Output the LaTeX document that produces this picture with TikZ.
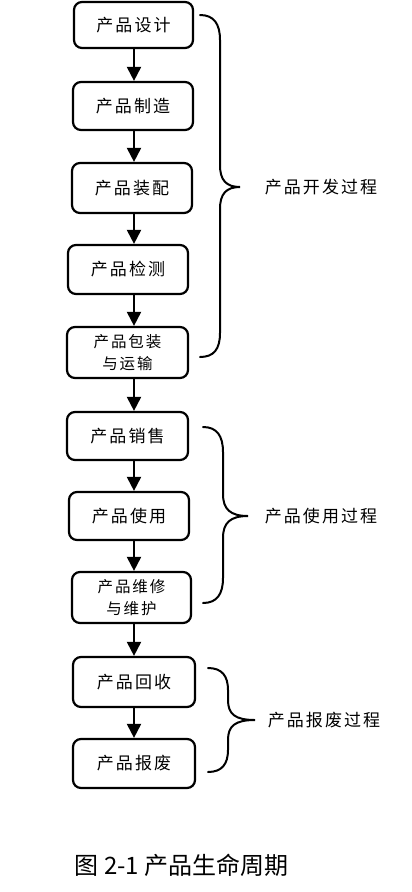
\documentclass[tikz,border=0pt]{standalone}
\usepackage{fontspec}
\setmainfont{Noto Sans CJK SC}
\newfontfamily\boxfont[LetterSpace=12]{Noto Sans CJK SC}
\usetikzlibrary{arrows.meta}
\begin{document}
\begin{tikzpicture}[x=1pt,y=-1pt,
  pbox/.style={draw, rounded corners=8pt, line width=2.2pt, inner sep=0pt, align=center,
    font=\boxfont\fontsize{17}{20}\selectfont},
  pbox2/.style={pbox, font=\boxfont\fontsize{15.5}{22}\selectfont},
  arr/.style={line width=2pt, -{Triangle[length=14pt,width=14pt]}},
  brace/.style={line width=2pt, line cap=round},
  lab/.style={inner sep=0pt, font=\boxfont\fontsize{17}{20}\selectfont},
]
\useasboundingbox (0,0) rectangle (412,892);
\fill[white] (0,0) rectangle (412,892);

\node[pbox, minimum width=119, minimum height=46] (b1) at (133.5,25) {产品设计};
\node[pbox, minimum width=120, minimum height=48] (b2) at (133,106) {产品制造};
\node[pbox, minimum width=120, minimum height=50] (b3) at (132,188) {产品装配};
\node[pbox, minimum width=120, minimum height=49] (b4) at (128,269.5) {产品检测};
\node[pbox2, minimum width=121, minimum height=51] (b5) at (127.5,352.5) {产品包装\\与运输};
\node[pbox, minimum width=121, minimum height=48] (b6) at (127.5,436) {产品销售};
\node[pbox, minimum width=120, minimum height=48] (b7) at (129,516) {产品使用};
\node[pbox2, minimum width=119, minimum height=51] (b8) at (131.5,597.5) {产品维修\\与维护};
\node[pbox, minimum width=122, minimum height=50] (b9) at (134,682) {产品回收};
\node[pbox, minimum width=122, minimum height=49] (b10) at (134,763.5) {产品报废};

\coordinate (ax) at (134,0);
\foreach \a/\b in {b1/b2,b2/b3,b3/b4,b4/b5,b5/b6,b6/b7,b7/b8,b8/b9,b9/b10}
  \draw[arr] (\a.south -| ax) -- (\b.north -| ax);

% braces
\draw[brace] (200,15) .. controls (214,15) and (220,24) .. (220,40) -- (220,165)
  .. controls (220,180) and (226,187) .. (240,187)
  .. controls (226,187) and (220,194) .. (220,209) -- (220,333)
  .. controls (220,349) and (214,357) .. (200,357);
\draw[brace] (203,427) .. controls (217,427) and (223,436) .. (223,452) -- (223,494)
  .. controls (223,509) and (230,516) .. (248,516)
  .. controls (230,516) and (223,523) .. (223,538) -- (223,578)
  .. controls (223,594) and (217,603) .. (203,603);
\draw[brace] (208,668) .. controls (222,668) and (228,676) .. (228,690) -- (228,700)
  .. controls (228,714) and (235,720) .. (255,720)
  .. controls (235,720) and (228,726) .. (228,740) -- (228,750)
  .. controls (228,764) and (222,772) .. (208,772);

\node[lab] (l1) at (321,187) {产品开发过程};
\node[lab] (l2) at (321,516) {产品使用过程};
\node[lab] (l3) at (324,720) {产品报废过程};

\node[inner sep=0pt, font=\fontsize{24}{28}\selectfont] (cap) at (181.5,865) {图 2-1 产品生命周期};
\end{tikzpicture}
\end{document}
